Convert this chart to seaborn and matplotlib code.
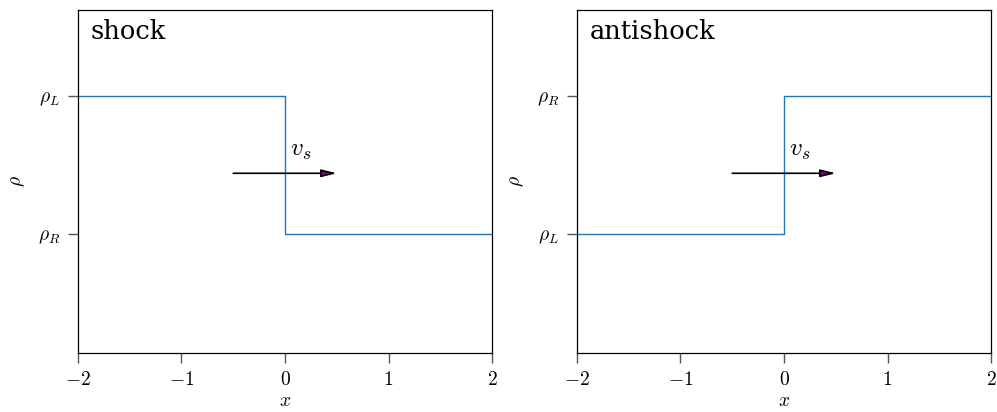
import numpy as np
import pandas as pd
import seaborn as sns
import matplotlib.pyplot as plt

# step profiles, x positions of the nodes
x_nodes = [-2.0, 0.0, 2.0]
shock_rho = [2.0, 1.0, 1.0]
antishock_rho = [1.0, 2.0, 2.0]

panel_names = ["shock", "antishock"]
ytick_vals = [1.0, 2.0]
shock_yticklabels = [r"$\rho_R$", r"$\rho_L$"]
antishock_yticklabels = [r"$\rho_L$", r"$\rho_R$"]
xtick_vals = [-2, -1, 0, 1, 2]

# arrow for the shock speed
arrow_x = [-0.5, 0.5]
arrow_y = 1.44

sns.set_style("white")
plt.rcParams["mathtext.fontset"] = "cm"
plt.rcParams["font.family"] = ["DejaVu Serif"]
plt.rcParams["text.color"] = "black"
plt.rcParams["axes.labelcolor"] = "black"
plt.rcParams["xtick.color"] = "black"
plt.rcParams["ytick.color"] = "black"

fig = plt.figure(figsize=(9.97, 4.12), dpi=100)
ax1 = fig.add_axes([0.0782, 0.1432, 0.4153, 0.8325])
ax2 = fig.add_axes([0.5787, 0.1432, 0.4153, 0.8325])

panels = [
    (ax1, shock_rho, shock_yticklabels, panel_names[0]),
    (ax2, antishock_rho, antishock_yticklabels, panel_names[1]),
]

for ax, rho, ylabels, name in panels:
    df = pd.DataFrame({"x": x_nodes, "rho": rho})
    sns.lineplot(data=df, x="x", y="rho", ax=ax, drawstyle="steps-post",
                 color="#1f77b4", linewidth=1.0, estimator=None)

    ax.annotate("", xy=(arrow_x[1], arrow_y), xytext=(arrow_x[0], arrow_y),
                arrowprops=dict(arrowstyle="-|>,head_length=0.6,head_width=0.15",
                                mutation_scale=15,
                                fc="purple", ec="black", lw=1.2,
                                shrinkA=0, shrinkB=0))
    ax.text(0.05, 1.52, r"$v_s$", fontsize=18, ha="left", va="bottom")

    ax.text(0.03, 0.975, name, transform=ax.transAxes, fontsize=18.5,
            ha="left", va="top")

    ax.set_xlim(-2, 2)
    ax.set_ylim(0.13, 2.63)
    ax.set_xticks(xtick_vals)
    ax.set_xticklabels([f"${v}$" for v in xtick_vals], fontsize=14)
    ax.set_yticks(ytick_vals)
    ax.set_yticklabels(ylabels, fontsize=14)
    ax.set_xlabel(r"$x$", fontsize=14, labelpad=2)
    ax.set_ylabel(r"$\rho$", fontsize=14, labelpad=8)
    ax.tick_params(axis="both", direction="out", length=7, width=1,
                   color="#555555", left=True, bottom=True, pad=6)
    for sp in ax.spines.values():
        sp.set_color("black")
        sp.set_linewidth(0.9)

fig.savefig("out.png", dpi=100)
